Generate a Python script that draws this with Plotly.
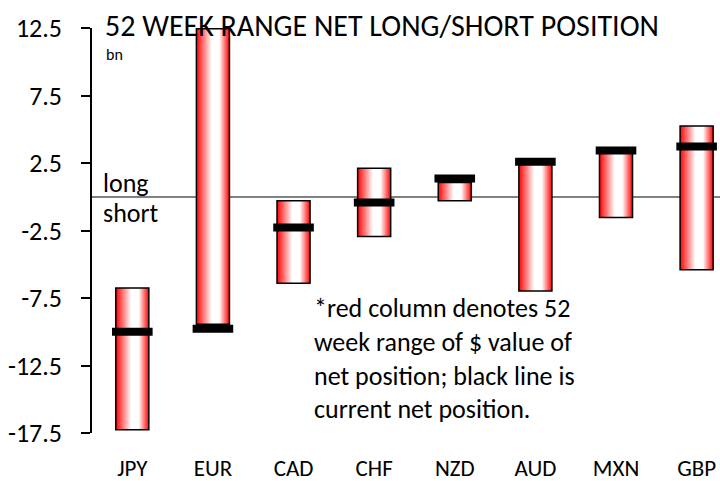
import plotly.graph_objects as go

currencies = ['JPY', 'EUR', 'CAD', 'CHF', 'NZD', 'AUD', 'MXN', 'GBP']
range_low = [-17.25, -9.45, -6.4, -2.95, -0.3, -6.98, -1.53, -5.4]
range_high = [-6.75, 12.45, -0.3, 2.12, 1.05, 2.6, 3.4, 5.25]
current = [-10.0, -9.78, -2.28, -0.43, 1.36, 2.6, 3.43, 3.72]

FONT = 'Carlito, Lato, sans-serif'
bar_w = 0.41
n_layers = 18

fig = go.Figure()

# fake a horizontal red-white-red gradient by stacking narrower bars on top
heights = [h - l for h, l in zip(range_high, range_low)]
for k in range(n_layers):
    t = 1 - k / (n_layers - 1)
    left = 0.45 * (1 - t)
    right = 1 - 0.30 * (1 - t)
    g = int(255 * (1 - t) + 10 * t)
    col = f'rgb(255,{g},{g})'
    fig.add_trace(go.Bar(
        x=currencies, y=heights, base=range_low,
        width=(right - left) * bar_w, offset=-bar_w / 2 + left * bar_w,
        marker=dict(color=col, line=dict(width=0)),
        showlegend=False, hoverinfo='skip'))

# outline on top of the layers
fig.add_trace(go.Bar(
    x=currencies, y=heights, base=range_low, width=bar_w,
    marker=dict(color='rgba(0,0,0,0)', line=dict(color='black', width=1.5)),
    showlegend=False, hoverinfo='skip'))

fig.add_trace(go.Scatter(
    x=currencies, y=current, mode='markers',
    marker=dict(symbol='line-ew', size=29, line=dict(color='black', width=8)),
    showlegend=False, hoverinfo='skip'))

fig.update_layout(
    width=720, height=481,
    margin=dict(l=92, r=0, t=28, b=48),
    paper_bgcolor='white', plot_bgcolor='white',
    barmode='overlay',
    font=dict(family=FONT, size=26, color='black'),
    xaxis=dict(range=[-0.5, 7.29], showgrid=False, showline=False, ticks='',
               ticklabelstandoff=19, tickfont=dict(size=23), automargin=False),
    yaxis=dict(range=[-17.5, 12.5], tickvals=[-17.5, -12.5, -7.5, -2.5, 2.5, 7.5, 12.5],
               ticktext=['-17.5', '-12.5', '-7.5', '-2.5', '2.5', '7.5', '12.5'],
               showgrid=False, showline=True, linecolor='black', linewidth=1.5,
               ticks='outside', ticklen=9, tickwidth=1.5, tickcolor='black',
               ticklabelstandoff=14,
               zeroline=True, zerolinecolor='#808080', zerolinewidth=1.5,
               tickfont=dict(size=26), automargin=False),
)

def px_x(p):
    return (p - 92) / 628

def px_y(p):
    return 1 - (p - 28) / 405

anns = [
    ('52 WEEK RANGE NET LONG/SHORT POSITION', 103, 25, 30),
    ('bn', 104, 55, 16),
    ('long', 101, 183, 26),
    ('short', 101, 213, 26),
    ('*red column denotes 52<br>week range of $ value of<br>net position; black line is<br>current net position.', 312, 358, 26),
]
for txt, x, y, s in anns:
    fig.add_annotation(text=txt, xref='paper', yref='paper', x=px_x(x), y=px_y(y),
                       xanchor='left', yanchor='middle', showarrow=False, align='left',
                       font=dict(size=s, family=FONT, color='black'))

# drop the default page margin / scrollbars so the figure sits at 0,0
fig.write_html('out.html', config={'displayModeBar': False},
               post_script="document.body.style.margin='0';document.body.style.overflow='hidden';")
